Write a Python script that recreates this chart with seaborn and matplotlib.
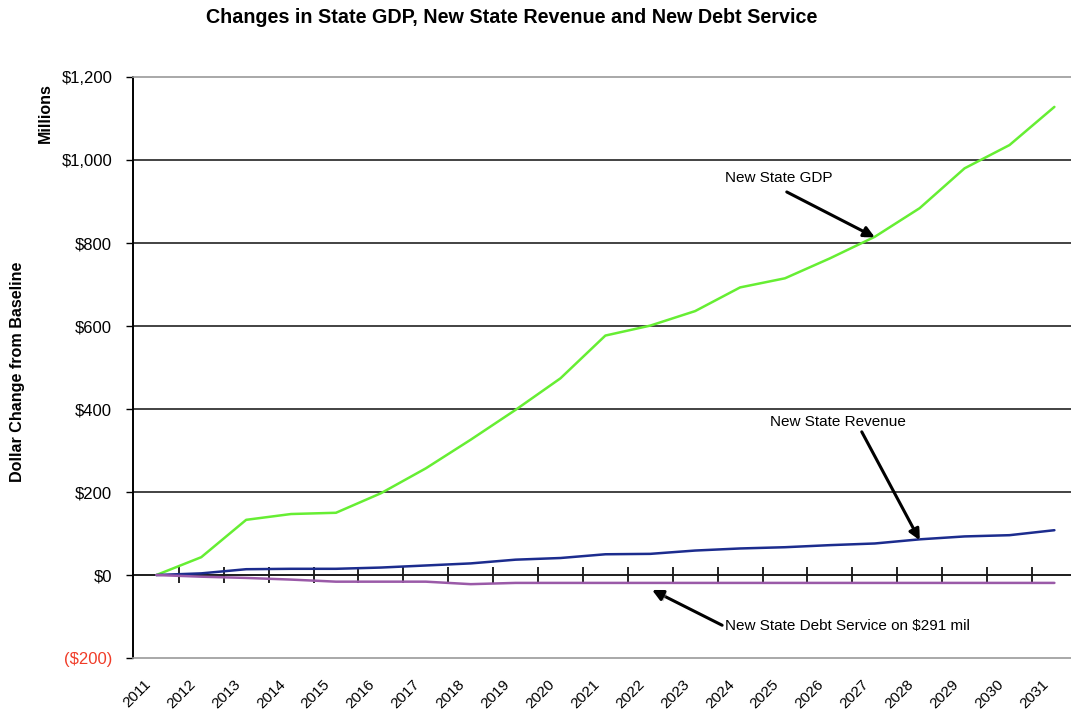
import numpy as np
import pandas as pd
import matplotlib
matplotlib.use("Agg")
import matplotlib.pyplot as plt
import matplotlib.patheffects as pe
import matplotlib.transforms as mtransforms
from matplotlib.ticker import FuncFormatter
import seaborn as sns

# ---- data ($ millions, change from baseline) ----
years = [str(y) for y in range(2011, 2032)]
state_gdp = [0, 43, 133, 147, 150, 197, 257, 326, 398, 474, 577,
             601, 636, 693, 715, 763, 815, 884, 980, 1036, 1128]
state_revenue = [0, 4, 14, 15, 15, 18, 23, 28, 37, 41, 50,
                 51, 59, 64, 67, 72, 76, 86, 93, 96, 108]
debt_service = [0, -4, -7, -11, -16, -16, -16, -22, -19, -19, -19,
                -19, -19, -19, -19, -19, -19, -19, -19, -19, -19]
series_names = ["New State GDP", "New State Revenue", "New State Debt Service"]
series_colors = ["#66EE33", "#1C2C8E", "#9A5AA8"]
y_ticks = [-200, 0, 200, 400, 600, 800, 1000, 1200]

df = pd.DataFrame({
    "idx": list(range(len(years))) * 3,
    "value": state_gdp + state_revenue + debt_service,
    "series": np.repeat(series_names, len(years)),
})

sns.set_theme(style="white")
plt.rcParams["font.family"] = ["Liberation Sans", "DejaVu Sans"]
plt.rcParams.update({"text.color": "black", "axes.labelcolor": "black",
                     "xtick.color": "black", "ytick.color": "black"})

fig = plt.figure(figsize=(10.71, 7.19), dpi=100)
ax = fig.add_axes([0.1242, 0.0848, 0.8758, 0.8081])

sns.lineplot(data=df, x="idx", y="value", hue="series",
             palette=dict(zip(series_names, series_colors)),
             linewidth=1.8, legend=False, ax=ax, zorder=3)

ax.set_xlim(-0.52, 20.37)
ax.set_ylim(-200, 1200)

# y axis: currency labels, negatives in parentheses and red
def money(v, _):
    return f"(${abs(v):,.0f})" if v < 0 else f"${v:,.0f}"

ax.set_yticks(y_ticks)
ax.yaxis.set_major_formatter(FuncFormatter(money))
ax.tick_params(axis="y", direction="out", length=5, width=1, color="black",
               labelsize=12, labelcolor="black", pad=10, left=True)
for lab, v in zip(ax.get_yticklabels(), y_ticks):
    if v < 0:
        lab.set_color("#F03C28")

ax.yaxis.grid(True, color="#222222", linewidth=1.2)
gl = ax.get_ygridlines()
gl[0].set_visible(False)
gl[-1].set_visible(False)

# x axis: year labels at the bottom, no tick marks
ax.set_xticks(range(len(years)))
ax.set_xticklabels(years, rotation=45, ha="right", rotation_mode="anchor")
ax.tick_params(axis="x", length=0, labelsize=11, pad=14)
shift = mtransforms.ScaledTranslation(-13 / 100, 0, fig.dpi_scale_trans)
for lab in ax.get_xticklabels():
    lab.set_transform(lab.get_transform() + shift)
ax.set_xlabel("")
ax.set_ylabel("")

for side in ["top", "bottom"]:
    ax.spines[side].set_color("#999999")
    ax.spines[side].set_linewidth(1.2)
ax.spines["right"].set_visible(False)
ax.spines["left"].set_color("black")
ax.spines["left"].set_linewidth(1.4)

# zero line carries the category boundary ticks
zero_axis = ax.secondary_xaxis(0, transform=ax.transData)
zero_axis.set_xticks(np.arange(0.5, len(years) - 1, 1.0))
zero_axis.tick_params(direction="inout", length=12, width=1.2, color="black",
                      labelbottom=False)
zero_axis.spines["bottom"].set_color("black")
zero_axis.spines["bottom"].set_linewidth(1.2)

# titles and axis captions
fig.text(0.478, 0.976, "Changes in State GDP, New State Revenue and New Debt Service",
         ha="center", va="center", fontsize=14.2, fontweight="bold")
fig.text(0.042, 0.843, "Millions", rotation=90, ha="center", va="center",
         fontsize=11.5, fontweight="bold")
fig.text(0.016, 0.483, "Dollar Change from Baseline", rotation=90,
         ha="center", va="center", fontsize=11.6, fontweight="bold")

# callouts
arrow_kw = dict(arrowstyle="-|>", color="black", lw=2.2, mutation_scale=16,
                shrinkA=0, shrinkB=0,
                path_effects=[pe.SimplePatchShadow(offset=(1.5, -1.5),
                                                   shadow_rgbFace="#888888", alpha=0.5),
                              pe.Normal()])
text_kw = dict(fontsize=11, color="black")

ax.text(12.66, 957, "New State GDP", ha="left", va="center", **text_kw)
ax.annotate("", xy=(16.0, 814), xytext=(14.04, 923), arrowprops=arrow_kw, zorder=5)

ax.text(15.18, 369, "New State Revenue", ha="center", va="center", **text_kw)
ax.annotate("", xy=(17.0, 84), xytext=(15.71, 345), arrowprops=arrow_kw, zorder=5)

ax.text(12.66, -123, "New State Debt Service on $291 mil", ha="left", va="center", **text_kw)
ax.annotate("", xy=(11.04, -36), xytext=(12.6, -121), arrowprops=arrow_kw, zorder=5)

fig.savefig("out.png", dpi=100)
